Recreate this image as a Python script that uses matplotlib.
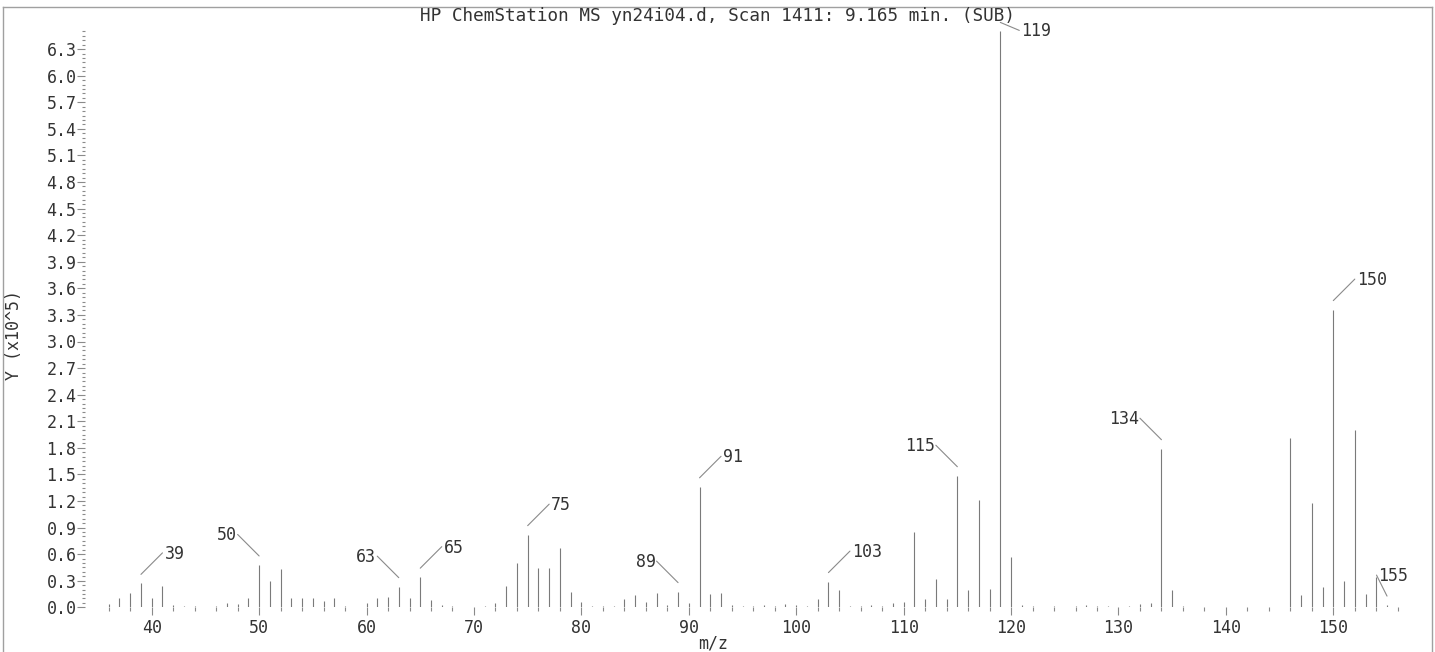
import matplotlib
matplotlib.use("Agg")
import matplotlib.pyplot as plt
from matplotlib.lines import Line2D
from matplotlib.transforms import offset_copy
from matplotlib.ticker import FixedLocator, FormatStrFormatter

# ---- spectrum data -------------------------------------------------------
TITLE = "HP ChemStation MS yn24i04.d, Scan 1411: 9.165 min. (SUB)"
X_LABEL = "m/z"
Y_LABEL = "Y (x10^5)"

mz = [36, 37, 38, 39, 40, 41, 42, 43, 44, 46, 47, 48, 49, 50, 51, 52, 53, 54,
      55, 56, 57, 58, 60, 61, 62, 63, 64, 65, 66, 67, 68, 71, 72, 73, 74, 75,
      76, 77, 78, 79, 80, 81, 82, 83, 84, 85, 86, 87, 88, 89, 90, 91, 92, 93,
      94, 95, 96, 97, 98, 99, 100, 101, 102, 103, 104, 105, 106, 107, 108,
      109, 110, 111, 112, 113, 114, 115, 116, 117, 118, 119, 120, 121, 122,
      124, 126, 127, 128, 129, 131, 132, 133, 134, 135, 136, 146, 147, 148,
      149, 150, 151, 152, 153, 154, 155]

# abundance in units of 1e5 counts
abundance = [0.04, 0.11, 0.16, 0.27, 0.11, 0.24, 0.03, 0.015, 0.015, 0.01,
             0.045, 0.035, 0.11, 0.478, 0.30, 0.43, 0.10, 0.10, 0.10, 0.07,
             0.10, 0.01, 0.05, 0.10, 0.12, 0.233, 0.10, 0.34, 0.08, 0.025,
             0.015, 0.02, 0.045, 0.24, 0.50, 0.82, 0.44, 0.445, 0.666, 0.17,
             0.064, 0.02, 0.015, 0.02, 0.09, 0.14, 0.064, 0.165, 0.026, 0.177,
             0.045, 1.36, 0.147, 0.158, 0.026, 0.015, 0.015, 0.026, 0.015,
             0.034, 0.026, 0.015, 0.094, 0.29, 0.19, 0.02, 0.01, 0.026, 0.015,
             0.053, 0.064, 0.846, 0.09, 0.32, 0.09, 1.485, 0.20, 1.21, 0.207,
             6.50, 0.57, 0.026, 0.015, 0.01, 0.015, 0.03, 0.015, 0.02, 0.02,
             0.04, 0.053, 1.79, 0.196, 0.015, 1.91, 0.14, 1.18, 0.226, 3.36,
             0.30, 2.00, 0.15, 0.345, 0.025]

labeled_mz = [39, 50, 63, 65, 75, 89, 91, 103, 115, 119, 134, 150, 155]

x_major = [40, 50, 60, 70, 80, 90, 100, 110, 120, 130, 140, 150]
x_minor = [m for m in range(36, 157, 2) if m % 10]
y_major = [i * 0.3 for i in range(22)]
y_minor = [i * 0.05 for i in range(131)]

# ---- styling -------------------------------------------------------------
W, H, DPI = 1435, 652, 100
FONT = "DejaVu Sans Mono"
TEXT_C = "#333333"
PEAK_C = "#7a7a7a"
TICK_C = "#8a8a8a"
FRAME_C = "#a0a0a0"

# label leader directions, in screen pixels (y up)
leader = {
    "ur": ((21.5, 21.5), "left"),
    "ul": ((-21.5, 21.5), "right"),
    "dr": ((19.0, -8.0), "left"),
    "us": ((-10.5, 21.0), "left"),
}
label_dir = {39: "ur", 50: "ul", 63: "ul", 65: "ur", 75: "ur", 89: "ul",
             91: "ur", 103: "ur", 115: "ul", 119: "dr", 134: "ul",
             150: "ur", 155: "us"}

fig = plt.figure(figsize=(W / DPI, H / DPI), dpi=DPI)
fig.patch.set_facecolor("white")

ax_left, ax_right = 85, 1410
ax_top, ax_bottom = 31.4, 607.3
ax = fig.add_axes([ax_left / W, (H - ax_bottom) / H,
                   (ax_right - ax_left) / W, (ax_bottom - ax_top) / H])
ax.set_xlim(33.79, 157.14)
ax.set_ylim(0, 6.5)
ax.set_facecolor("none")
for s in ax.spines.values():
    s.set_visible(False)

ax.vlines(mz, 0, abundance, colors=PEAK_C, linewidth=0.8)

ax.xaxis.set_major_locator(FixedLocator(x_major))
ax.xaxis.set_minor_locator(FixedLocator(x_minor))
ax.yaxis.set_major_locator(FixedLocator(y_major))
ax.yaxis.set_minor_locator(FixedLocator(y_minor))
ax.yaxis.set_major_formatter(FormatStrFormatter("%.1f"))
ax.tick_params(axis="x", which="major", direction="out", length=5.6,
               width=0.8, color=TICK_C, pad=3, labelsize=12,
               labelcolor=TEXT_C)
ax.tick_params(axis="x", which="minor", direction="out", length=3.0,
               width=0.8, color=TICK_C)
ax.tick_params(axis="y", which="major", direction="out", length=5.6,
               width=0.8, color=TICK_C, pad=0.5, labelsize=12,
               labelcolor=TEXT_C)
ax.tick_params(axis="y", which="minor", direction="out", length=2.4,
               width=0.8, color=TICK_C)
for lab in ax.get_xticklabels() + ax.get_yticklabels():
    lab.set_family(FONT)

# peak labels with leader lines
lookup = dict(zip(mz, abundance))
start_tr = offset_copy(ax.transData, fig=fig, x=0, y=9, units="dots")
for m in labeled_mz:
    h = lookup[m]
    (dx, dy), ha = leader[label_dir[m]]
    ax.annotate("", xy=(m, h), xycoords=start_tr, xytext=(dx, dy),
                textcoords="offset pixels", annotation_clip=False,
                arrowprops=dict(arrowstyle="-", color=TICK_C, lw=0.8,
                                shrinkA=0, shrinkB=0))
    tx = dx + (2 if ha == "left" else -1)
    ax.annotate(str(m), xy=(m, h), xycoords=start_tr, xytext=(tx, dy - 6),
                textcoords="offset pixels", ha=ha, va="baseline",
                fontsize=12, family=FONT, color=TEXT_C,
                annotation_clip=False)

fig.text(0.5, 1 - 21 / H, TITLE, ha="center", va="baseline",
         fontsize=12.7, family=FONT, color=TEXT_C)
fig.text(713 / W, 1 - 649 / H, X_LABEL, ha="center", va="baseline",
         fontsize=12, family=FONT, color=TEXT_C)
fig.text(14 / W, 1 - 335 / H, Y_LABEL, ha="center", va="center",
         rotation=90, fontsize=12, family=FONT, color=TEXT_C)

# outer frame
fx0, fx1, fy0 = 3 / W, 1432 / W, 1 - 7 / H
for xs, ys in (([fx0, fx0], [0, fy0]), ([fx0, fx1], [fy0, fy0]),
               ([fx1, fx1], [fy0, 0])):
    fig.add_artist(Line2D(xs, ys, transform=fig.transFigure,
                          color=FRAME_C, lw=1.0))

fig.savefig("out.png", dpi=DPI)
